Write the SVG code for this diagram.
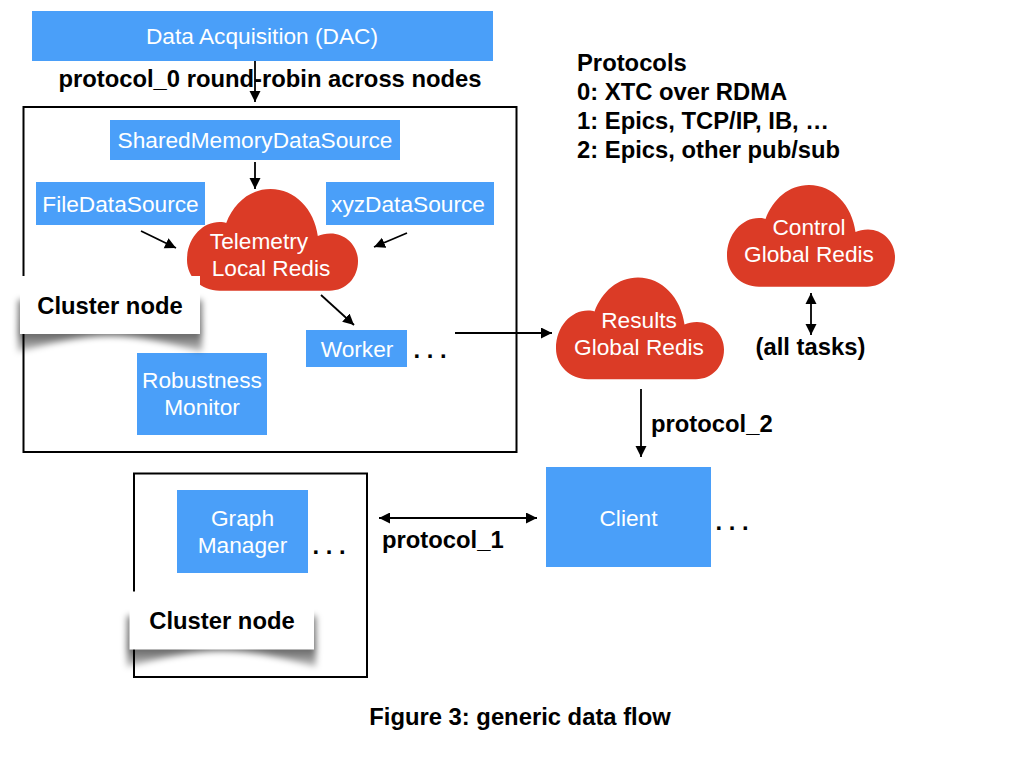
<svg xmlns="http://www.w3.org/2000/svg" width="1024" height="768" viewBox="0 0 1024 768">
<style>
text{font-family:"Liberation Sans",Arial,sans-serif;text-anchor:middle}
.box{fill:#4a9ff9}
.cloud{fill:#db3b26}
.w{fill:#fff;font-size:22.7px}
.b{fill:#000;font-size:23.8px;font-weight:bold}
.l{text-anchor:start}
.frame{fill:none;stroke:#000;stroke-width:2}
.c{fill:none;stroke:#000;stroke-width:1.8;marker-end:url(#a)}
.d{marker-start:url(#s)}
</style>
<defs>
<marker id="a" markerUnits="userSpaceOnUse" markerWidth="12" markerHeight="12" refX="11" refY="5.500" orient="auto"><path d="M0 0L11 5.500L0 11Z" fill="#000"/></marker>
<marker id="s" markerUnits="userSpaceOnUse" markerWidth="12" markerHeight="12" refX="0" refY="5.500" orient="auto"><path d="M11 0L0 5.500L11 11Z" fill="#000"/></marker>
<path id="cl" d="M32 101.7C14 101.7 0 88 0 71C0 49 15 33 32 33C35 33 37 33.3 38.5 34C46 14 62 0 82 0C106 0 125 20 128.5 47C132 45.5 136 44.5 141 44.5C156 44.5 168 57 168 72C168 89 156 101.7 140 101.7Z"/>
<filter id="bl" x="-10%" y="-40%" width="120%" height="180%"><feGaussianBlur stdDeviation="3"/></filter>
<linearGradient id="sg" x1="0" y1="0" x2="0" y2="1"><stop offset="0" stop-color="#000" stop-opacity=".5"/><stop offset=".65" stop-color="#000" stop-opacity=".6"/><stop offset="1" stop-color="#000" stop-opacity=".22"/></linearGradient>
</defs>
<g id="frames">
<rect class="frame" x="23.500" y="107" width="493" height="345"/>
<rect class="frame" x="134" y="473.500" width="233" height="203.500"/>
</g>
<g id="dac"><rect class="box" x="32" y="11" width="461" height="50"/><text class="w" x="262" y="44">Data Acquisition (DAC)</text></g>
<g id="shm"><rect class="box" x="110" y="120" width="290" height="40"/><text class="w" x="255" y="148">SharedMemoryDataSource</text></g>
<g id="file"><rect class="box" x="36" y="182" width="169" height="43"/><text class="w" x="120.500" y="212">FileDataSource</text></g>
<g id="xyz"><rect class="box" x="326" y="182" width="168" height="43"/><text class="w" x="408" y="212">xyzDataSource</text></g>
<g id="telemetry"><use href="#cl" class="cloud" transform="translate(187 189) scale(1.018 1)"/><text class="w" x="259" y="249">Telemetry</text><text class="w" x="271" y="276">Local Redis</text></g>
<g id="worker"><rect class="box" x="306" y="330" width="101" height="37"/><text class="w" x="357" y="357">Worker</text></g>
<g id="robustness"><rect class="box" x="137" y="353" width="130" height="82"/><text class="w" x="202" y="388">Robustness</text><text class="w" x="202" y="415">Monitor</text></g>
<g id="results"><use href="#cl" class="cloud" x="556" y="277.500"/><text class="w" x="639" y="328">Results</text><text class="w" x="639" y="355">Global Redis</text></g>
<g id="control"><use href="#cl" class="cloud" x="727" y="185"/><text class="w" x="809" y="235">Control</text><text class="w" x="809" y="262">Global Redis</text></g>
<g id="graph"><rect class="box" x="177" y="490" width="131" height="83"/><text class="w" x="242.500" y="526">Graph</text><text class="w" x="242.500" y="553">Manager</text></g>
<g id="client"><rect class="box" x="546" y="467" width="165" height="100"/><text class="w" x="628.500" y="526">Client</text></g>
<g id="card1">
<path d="M18 300H202V352C170 343 140 336 110 336C80 336 50 343 18 352Z" fill="url(#sg)" filter="url(#bl)"/>
<rect x="20" y="276" width="180" height="58" fill="#fff"/>
<text class="b" x="110" y="314">Cluster node</text>
</g>
<g id="card2">
<path d="M127 616H316V667C285 658 252 651 222 651C192 651 160 658 127 667Z" fill="url(#sg)" filter="url(#bl)"/>
<rect x="129.500" y="591.500" width="184.500" height="58" fill="#fff"/>
<text class="b" x="222" y="629">Cluster node</text>
</g>
<g id="labels">
<text class="b" x="270" y="87">protocol_0 round-robin across nodes</text>
<text class="b l" x="577" y="71">Protocols</text>
<text class="b l" x="577" y="100">0: XTC over RDMA</text>
<text class="b l" x="577" y="129">1: Epics, TCP/IP, IB, …</text>
<text class="b l" x="577" y="158">2: Epics, other pub/sub</text>
<text class="b" x="810.500" y="355">(all tasks)</text>
<text class="b l" x="651" y="432">protocol_2</text>
<text class="b l" x="382" y="548">protocol_1</text>
<text class="b" x="430" y="358">. . .</text>
<text class="b" x="329" y="554">. . .</text>
<text class="b" x="732" y="530">. . .</text>
<text class="b" x="520" y="725">Figure 3: generic data flow</text>
</g>
<g id="connectors">
<path class="c" d="M255 61V102"/>
<path class="c" d="M255 162V189"/>
<path class="c" d="M141 231L176 248"/>
<path class="c" d="M407 233L374 247"/>
<path class="c" d="M321 295L354 325"/>
<path class="c" d="M455 333H552"/>
<path class="c" d="M641 389V457"/>
<path class="c d" d="M811 293V335"/>
<path class="c d" d="M379 518H537"/>
</g>
</svg>
